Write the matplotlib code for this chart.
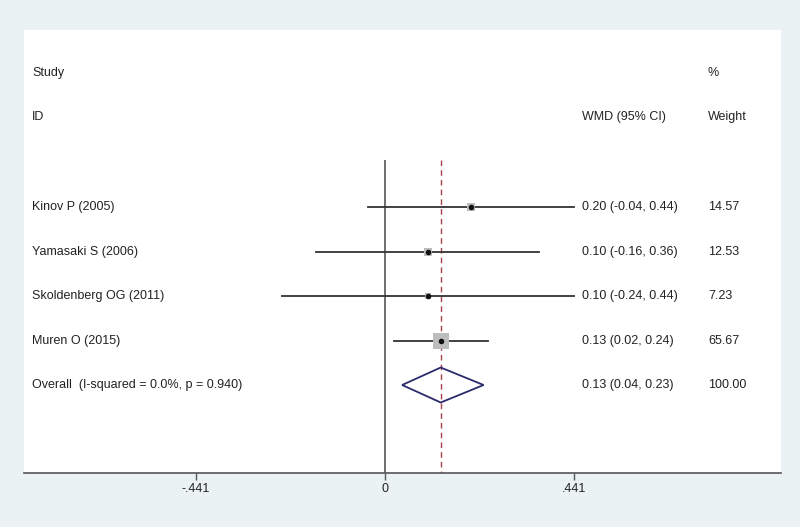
import matplotlib.pyplot as plt
from matplotlib.patches import Polygon

plt.rcParams['font.family'] = ['Liberation Sans', 'DejaVu Sans']

studies = ['Kinov P (2005)', 'Yamasaki S (2006)', 'Skoldenberg OG (2011)', 'Muren O (2015)']
wmd = [0.20, 0.10, 0.10, 0.13]
lo = [-0.04, -0.16, -0.24, 0.02]
hi = [0.44, 0.36, 0.44, 0.24]
weights = [14.57, 12.53, 7.23, 65.67]
overall = 0.13
overall_lo = 0.04
overall_hi = 0.23
overall_label = 'Overall  (I-squared = 0.0%, p = 0.940)'
ticks = [-0.441, 0, 0.441]
tick_labels = ['-.441', '0', '.441']

bg = '#eaf2f3'
fig = plt.figure(figsize=(8, 5.27), dpi=100, facecolor=bg)
# axes covers the white panel; y runs in pixel rows from the top
ax = fig.add_axes([24/800, (527-473)/527, (781-24)/800, (473-30)/527])
px = 0.441 / 189.0
ax.set_xlim((24-385)*px, (781-385)*px)
ax.set_ylim(473, 30)

row_y = [207 + 44.5*i for i in range(len(studies))]
ov_y = 207 + 44.5*len(studies)

fs = 9
tc = '#222222'
tx = (32-385)*px
cx = (582-385)*px
wx = (708-385)*px

ax.vlines(0, 160, 473, color='#555555', lw=1.2)
ax.vlines(overall, 160, 473, color='#a8404e', lw=1.0, linestyles=(0, (4, 3)))

for s, m, l, h, w, y in zip(studies, wmd, lo, hi, weights, row_y):
    ax.plot([l, h], [y, y], color='#333333', lw=1.3, zorder=2)
    ax.scatter([m], [y], marker='s', s=2.28*w, color='#bdbdbd', zorder=3, linewidths=0)
    ax.plot([m], [y], 'o', color='#111111', ms=3, zorder=4)
    ax.text(tx, y, s, fontsize=fs, va='center', color=tc)
    ax.text(cx, y, '%.2f (%.2f, %.2f)' % (m, l, h), fontsize=fs, va='center', color=tc)
    ax.text(wx, y, '%.2f' % w, fontsize=fs, va='center', color=tc)

dia = Polygon([(overall_lo, ov_y), (overall, ov_y-17.5), (overall_hi, ov_y), (overall, ov_y+17.5)],
              closed=True, fill=False, edgecolor='#2b2b6e', lw=1.3, zorder=3)
ax.add_patch(dia)
ax.text(tx, ov_y, overall_label, fontsize=fs, va='center', color=tc)
ax.text(cx, ov_y, '%.2f (%.2f, %.2f)' % (overall, overall_lo, overall_hi), fontsize=fs, va='center', color=tc)
ax.text(wx, ov_y, '100.00', fontsize=fs, va='center', color=tc)

ax.text(tx, 73, 'Study', fontsize=fs, va='center', color=tc)
ax.text(tx, 117, 'ID', fontsize=fs, va='center', color=tc)
ax.text(cx, 117, 'WMD (95% CI)', fontsize=fs, va='center', color=tc)
ax.text(wx, 73, '%', fontsize=fs, va='center', color=tc)
ax.text(wx, 117, 'Weight', fontsize=fs, va='center', color=tc)

for side in ['top', 'left', 'right']:
    ax.spines[side].set_visible(False)
ax.spines['bottom'].set_color('#555555')
ax.spines['bottom'].set_linewidth(1.2)
ax.set_yticks([])
ax.set_xticks(ticks)
ax.set_xticklabels(tick_labels, fontsize=fs, color=tc)
ax.tick_params(axis='x', length=5, width=1, color='#555555', pad=2)

fig.savefig('out.png', dpi=100, facecolor=bg)
